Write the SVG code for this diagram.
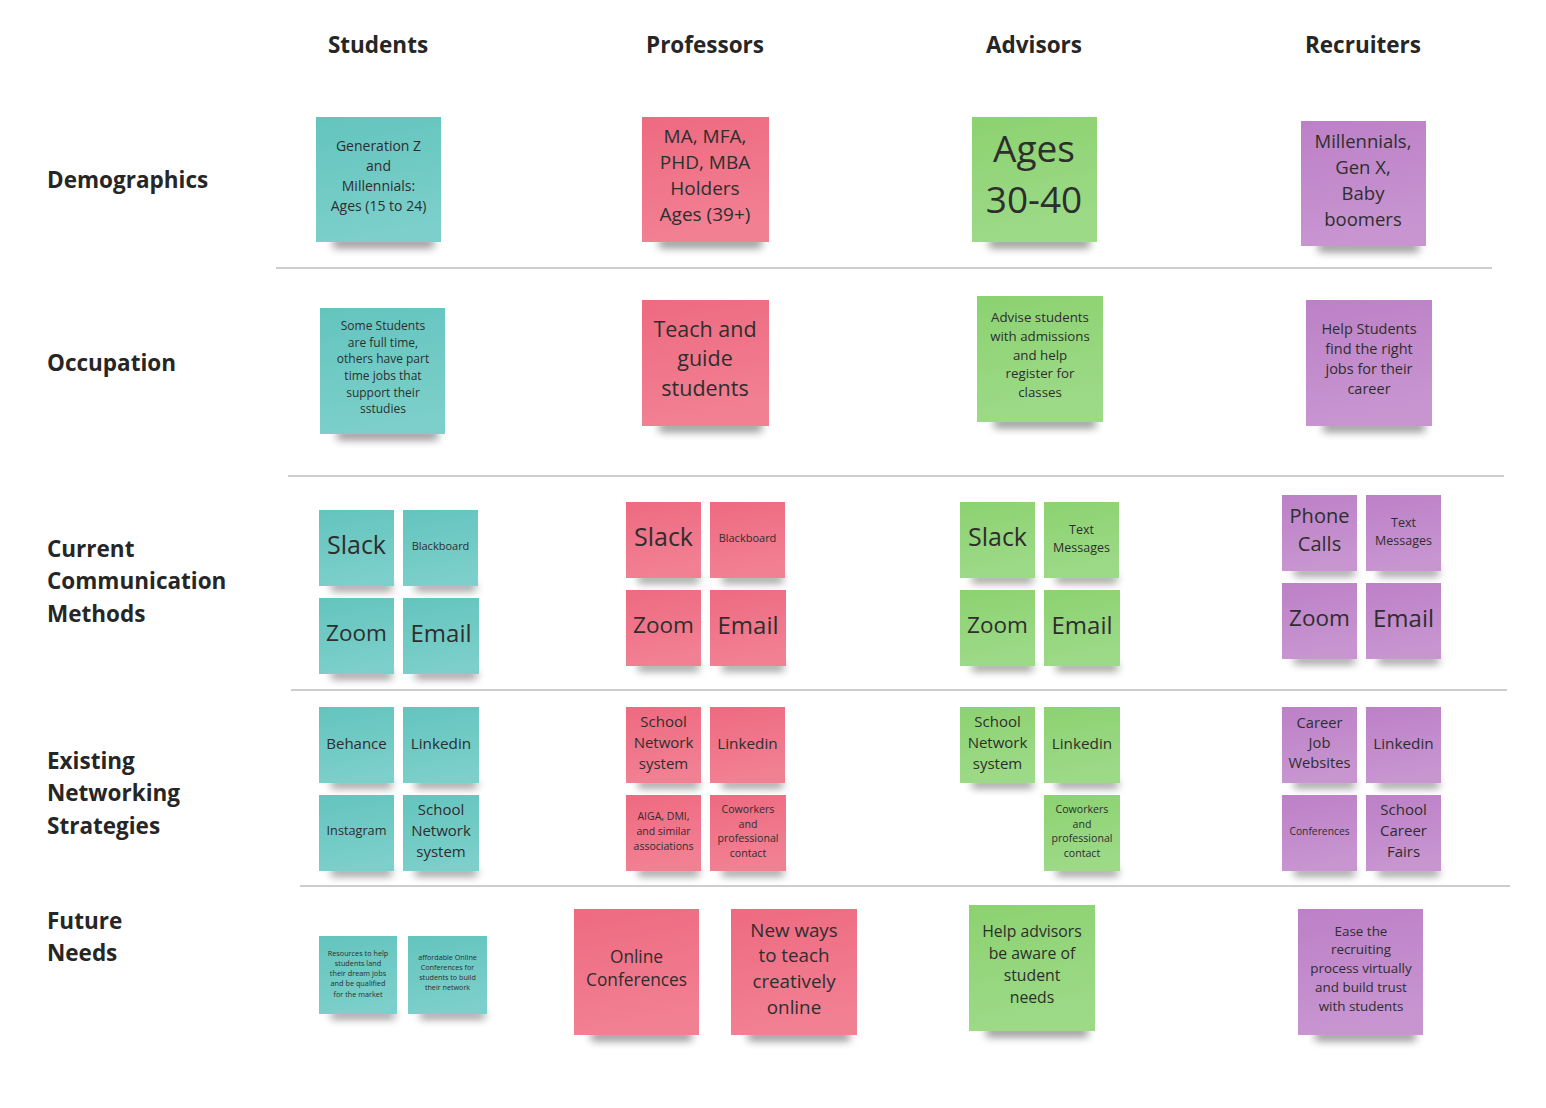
<svg xmlns="http://www.w3.org/2000/svg" width="1546" height="1108" viewBox="0 0 1546 1108">
<style>
.hd{font-family:"Open Sans","DejaVu Sans",sans-serif;font-weight:bold;font-size:22.5px;fill:#262626}
.ch{text-anchor:middle}
.t{font-family:"Open Sans","DejaVu Sans",sans-serif;fill:#2e2e2e;text-anchor:middle}
.sh{fill:#000;opacity:.42;filter:url(#bl);transform:translate(5px,2px)}
.teal{fill:url(#gT)}
.pink{fill:url(#gP)}
.green{fill:url(#gG)}
.purple{fill:url(#gU)}
.div{stroke:#cdcdcd;stroke-width:2}
</style>
<defs>
<filter id="bl" x="-30%" y="-200%" width="160%" height="500%"><feGaussianBlur stdDeviation="4"/></filter>
<linearGradient id="gT" x1="0" y1="0" x2="0.2" y2="1"><stop offset="0" stop-color="#63c4be"/><stop offset="1" stop-color="#7ccfca"/></linearGradient>
<linearGradient id="gP" x1="0" y1="0" x2="0.2" y2="1"><stop offset="0" stop-color="#ee6a80"/><stop offset="1" stop-color="#f28093"/></linearGradient>
<linearGradient id="gG" x1="0" y1="0" x2="0.2" y2="1"><stop offset="0" stop-color="#8cd270"/><stop offset="1" stop-color="#9dda88"/></linearGradient>
<linearGradient id="gU" x1="0" y1="0" x2="0.2" y2="1"><stop offset="0" stop-color="#bc80c6"/><stop offset="1" stop-color="#c895d1"/></linearGradient>
</defs>
<rect width="1546" height="1108" fill="#fff"/>

<g id="column-headers">
<text class="hd ch" x="378" y="53">Students</text>
<text class="hd ch" x="705" y="53">Professors</text>
<text class="hd ch" x="1034" y="53">Advisors</text>
<text class="hd ch" x="1363" y="53">Recruiters</text>
</g>
<g id="row-labels">
<text class="hd" x="47" y="188">Demographics</text>
<text class="hd" x="47" y="371">Occupation</text>
<text class="hd" x="47" y="557">Current</text>
<text class="hd" x="47" y="589">Communication</text>
<text class="hd" x="47" y="622">Methods</text>
<text class="hd" x="47" y="769">Existing</text>
<text class="hd" x="47" y="801">Networking</text>
<text class="hd" x="47" y="834">Strategies</text>
<text class="hd" x="47" y="929">Future</text>
<text class="hd" x="47" y="961">Needs</text>
</g>
<g id="connectors">
<line class="div" x1="276" y1="268" x2="1492" y2="268"/>
<line class="div" x1="288" y1="476" x2="1504" y2="476"/>
<line class="div" x1="291" y1="690" x2="1507" y2="690"/>
<line class="div" x1="300" y1="886" x2="1510" y2="886"/>
</g>

<!-- Demographics -->
<g id="stu-demo"><rect class="sh" x="328" y="236" width="101" height="10"/><rect class="teal" x="316" y="117" width="125" height="125"/>
<text class="t" font-size="14" x="378.5"><tspan x="378.5" y="151">Generation Z</tspan><tspan x="378.5" y="171">and</tspan><tspan x="378.5" y="191">Millennials:</tspan><tspan x="378.5" y="211">Ages (15 to 24)</tspan></text></g>
<g id="prof-demo"><rect class="sh" x="654" y="236" width="103" height="10"/><rect class="pink" x="642" y="117" width="127" height="125"/>
<text class="t" font-size="19" x="705"><tspan x="705" y="143">MA, MFA,</tspan><tspan x="705" y="169">PHD, MBA</tspan><tspan x="705" y="195">Holders</tspan><tspan x="705" y="221">Ages (39+)</tspan></text></g>
<g id="adv-demo"><rect class="sh" x="984" y="236" width="101" height="10"/><rect class="green" x="972" y="117" width="125" height="125"/>
<text class="t" font-size="37" x="1034"><tspan x="1034" y="162">Ages</tspan><tspan x="1034" y="213">30-40</tspan></text></g>
<g id="rec-demo"><rect class="sh" x="1313" y="240" width="101" height="10"/><rect class="purple" x="1301" y="121" width="125" height="125"/>
<text class="t" font-size="18.5" x="1363"><tspan x="1363" y="147.5">Millennials,</tspan><tspan x="1363" y="173.5">Gen X,</tspan><tspan x="1363" y="199.5">Baby</tspan><tspan x="1363" y="225.5">boomers</tspan></text></g>

<!-- Occupation -->
<g id="stu-occ"><rect class="sh" x="332" y="428" width="101" height="10"/><rect class="teal" x="320" y="308" width="125" height="126"/>
<text class="t" font-size="12"><tspan x="383" y="330">Some Students</tspan><tspan x="383" y="346.5">are full time,</tspan><tspan x="383" y="363">others have part</tspan><tspan x="383" y="380">time jobs that</tspan><tspan x="383" y="397">support their</tspan><tspan x="383" y="413">sstudies</tspan></text></g>
<g id="prof-occ"><rect class="sh" x="654" y="420" width="103" height="10"/><rect class="pink" x="642" y="300" width="127" height="126"/>
<text class="t" font-size="21.5"><tspan x="705" y="336.5">Teach and</tspan><tspan x="705" y="366">guide</tspan><tspan x="705" y="395.5">students</tspan></text></g>
<g id="adv-occ"><rect class="sh" x="989" y="416" width="102" height="10"/><rect class="green" x="977" y="296" width="126" height="126"/>
<text class="t" font-size="13.3"><tspan x="1040" y="321.7">Advise students</tspan><tspan x="1040" y="340.7">with admissions</tspan><tspan x="1040" y="359.7">and help</tspan><tspan x="1040" y="377.7">register for</tspan><tspan x="1040" y="396.7">classes</tspan></text></g>
<g id="rec-occ"><rect class="sh" x="1318" y="420" width="102" height="10"/><rect class="purple" x="1306" y="300" width="126" height="126"/>
<text class="t" font-size="14.5"><tspan x="1369" y="334">Help Students</tspan><tspan x="1369" y="354">find the right</tspan><tspan x="1369" y="374">jobs for their</tspan><tspan x="1369" y="394">career</tspan></text></g>

<!-- Communication: Students -->
<g id="stu-slack"><rect class="sh" x="326" y="581" width="61" height="8"/><rect class="teal" x="319" y="510" width="75" height="76"/><text class="t" font-size="25" x="356.5" y="554">Slack</text></g>
<g id="stu-blackboard"><rect class="sh" x="410" y="581" width="61" height="8"/><rect class="teal" x="403" y="510" width="75" height="76"/><text class="t" font-size="11" x="440.5" y="550">Blackboard</text></g>
<g id="stu-zoom"><rect class="sh" x="326" y="669" width="61" height="8"/><rect class="teal" x="319" y="598" width="75" height="76"/><text class="t" font-size="22.5" x="356.5" y="641">Zoom</text></g>
<g id="stu-email"><rect class="sh" x="410" y="669" width="62" height="8"/><rect class="teal" x="403" y="598" width="76" height="76"/><text class="t" font-size="24" x="441" y="641.5">Email</text></g>
<!-- Communication: Professors -->
<g id="prof-slack"><rect class="sh" x="633" y="573" width="61" height="8"/><rect class="pink" x="626" y="502" width="75" height="76"/><text class="t" font-size="25" x="663.5" y="546">Slack</text></g>
<g id="prof-blackboard"><rect class="sh" x="717" y="573" width="61" height="8"/><rect class="pink" x="710" y="502" width="75" height="76"/><text class="t" font-size="11" x="747.5" y="542">Blackboard</text></g>
<g id="prof-zoom"><rect class="sh" x="633" y="661" width="61" height="8"/><rect class="pink" x="626" y="590" width="75" height="76"/><text class="t" font-size="22.5" x="663.5" y="633">Zoom</text></g>
<g id="prof-email"><rect class="sh" x="717" y="661" width="62" height="8"/><rect class="pink" x="710" y="590" width="76" height="76"/><text class="t" font-size="24" x="748" y="633.5">Email</text></g>
<!-- Communication: Advisors -->
<g id="adv-slack"><rect class="sh" x="967" y="573" width="61" height="8"/><rect class="green" x="960" y="502" width="75" height="76"/><text class="t" font-size="25" x="997.5" y="546">Slack</text></g>
<g id="adv-text"><rect class="sh" x="1051" y="573" width="61" height="8"/><rect class="green" x="1044" y="502" width="75" height="76"/><text class="t" font-size="12.5"><tspan x="1081.5" y="533.5">Text</tspan><tspan x="1081.5" y="551.5">Messages</tspan></text></g>
<g id="adv-zoom"><rect class="sh" x="967" y="661" width="61" height="8"/><rect class="green" x="960" y="590" width="75" height="76"/><text class="t" font-size="22.5" x="997.5" y="633">Zoom</text></g>
<g id="adv-email"><rect class="sh" x="1051" y="661" width="62" height="8"/><rect class="green" x="1044" y="590" width="76" height="76"/><text class="t" font-size="24" x="1082" y="633.5">Email</text></g>
<!-- Communication: Recruiters -->
<g id="rec-phone"><rect class="sh" x="1289" y="566" width="61" height="8"/><rect class="purple" x="1282" y="495" width="75" height="76"/><text class="t" font-size="20"><tspan x="1319.5" y="523">Phone</tspan><tspan x="1319.5" y="551">Calls</tspan></text></g>
<g id="rec-text"><rect class="sh" x="1373" y="566" width="61" height="8"/><rect class="purple" x="1366" y="495" width="75" height="76"/><text class="t" font-size="12.5"><tspan x="1403.5" y="526.5">Text</tspan><tspan x="1403.5" y="544.5">Messages</tspan></text></g>
<g id="rec-zoom"><rect class="sh" x="1289" y="654" width="61" height="8"/><rect class="purple" x="1282" y="583" width="75" height="76"/><text class="t" font-size="22.5" x="1319.5" y="626">Zoom</text></g>
<g id="rec-email"><rect class="sh" x="1373" y="654" width="61" height="8"/><rect class="purple" x="1366" y="583" width="75" height="76"/><text class="t" font-size="24" x="1403.5" y="626.5">Email</text></g>

<!-- Networking: Students -->
<g id="stu-behance"><rect class="sh" x="326" y="778" width="61" height="8"/><rect class="teal" x="319" y="707" width="75" height="76"/><text class="t" font-size="15" x="356.5" y="748.5">Behance</text></g>
<g id="stu-linkedin"><rect class="sh" x="410" y="778" width="62" height="8"/><rect class="teal" x="403" y="707" width="76" height="76"/><text class="t" font-size="15.3" x="441" y="748.5">Linkedin</text></g>
<g id="stu-instagram"><rect class="sh" x="326" y="866" width="61" height="8"/><rect class="teal" x="319" y="795" width="75" height="76"/><text class="t" font-size="12.7" x="356.5" y="835">Instagram</text></g>
<g id="stu-school"><rect class="sh" x="410" y="866" width="62" height="8"/><rect class="teal" x="403" y="795" width="76" height="76"/><text class="t" font-size="15"><tspan x="441" y="814.5">School</tspan><tspan x="441" y="835.5">Network</tspan><tspan x="441" y="856.5">system</tspan></text></g>
<!-- Networking: Professors -->
<g id="prof-school"><rect class="sh" x="633" y="778" width="61" height="8"/><rect class="pink" x="626" y="707" width="75" height="76"/><text class="t" font-size="15"><tspan x="663.5" y="726.5">School</tspan><tspan x="663.5" y="747.5">Network</tspan><tspan x="663.5" y="768.5">system</tspan></text></g>
<g id="prof-linkedin"><rect class="sh" x="717" y="778" width="61" height="8"/><rect class="pink" x="710" y="707" width="75" height="76"/><text class="t" font-size="15.3" x="747.5" y="748.5">Linkedin</text></g>
<g id="prof-aiga"><rect class="sh" x="633" y="866" width="61" height="8"/><rect class="pink" x="626" y="795" width="75" height="76"/><text class="t" font-size="10.5"><tspan x="663.5" y="820">AIGA, DMI,</tspan><tspan x="663.5" y="835">and similar</tspan><tspan x="663.5" y="850">associations</tspan></text></g>
<g id="prof-coworkers"><rect class="sh" x="717" y="866" width="62" height="8"/><rect class="pink" x="710" y="795" width="76" height="76"/><text class="t" font-size="10.6"><tspan x="748" y="813">Coworkers</tspan><tspan x="748" y="827.5">and</tspan><tspan x="748" y="842">professional</tspan><tspan x="748" y="856.5">contact</tspan></text></g>
<!-- Networking: Advisors -->
<g id="adv-school"><rect class="sh" x="967" y="778" width="61" height="8"/><rect class="green" x="960" y="707" width="75" height="76"/><text class="t" font-size="15"><tspan x="997.5" y="726.5">School</tspan><tspan x="997.5" y="747.5">Network</tspan><tspan x="997.5" y="768.5">system</tspan></text></g>
<g id="adv-linkedin"><rect class="sh" x="1051" y="778" width="62" height="8"/><rect class="green" x="1044" y="707" width="76" height="76"/><text class="t" font-size="15.3" x="1082" y="748.5">Linkedin</text></g>
<g id="adv-coworkers"><rect class="sh" x="1051" y="866" width="62" height="8"/><rect class="green" x="1044" y="795" width="76" height="76"/><text class="t" font-size="10.6"><tspan x="1082" y="813">Coworkers</tspan><tspan x="1082" y="827.5">and</tspan><tspan x="1082" y="842">professional</tspan><tspan x="1082" y="856.5">contact</tspan></text></g>
<!-- Networking: Recruiters -->
<g id="rec-career"><rect class="sh" x="1289" y="778" width="61" height="8"/><rect class="purple" x="1282" y="707" width="75" height="76"/><text class="t" font-size="14.7"><tspan x="1319.5" y="727.5">Career</tspan><tspan x="1319.5" y="747.5">Job</tspan><tspan x="1319.5" y="767.5">Websites</tspan></text></g>
<g id="rec-linkedin"><rect class="sh" x="1373" y="778" width="61" height="8"/><rect class="purple" x="1366" y="707" width="75" height="76"/><text class="t" font-size="15.3" x="1403.5" y="748.5">Linkedin</text></g>
<g id="rec-conferences"><rect class="sh" x="1289" y="866" width="61" height="8"/><rect class="purple" x="1282" y="795" width="75" height="76"/><text class="t" font-size="10.3" x="1319.5" y="835">Conferences</text></g>
<g id="rec-fairs"><rect class="sh" x="1373" y="866" width="61" height="8"/><rect class="purple" x="1366" y="795" width="75" height="76"/><text class="t" font-size="15"><tspan x="1403.5" y="814.5">School</tspan><tspan x="1403.5" y="835.5">Career</tspan><tspan x="1403.5" y="856.5">Fairs</tspan></text></g>

<!-- Future needs -->
<g id="stu-resources"><rect class="sh" x="326" y="1009" width="64" height="8"/><rect class="teal" x="319" y="936" width="78" height="78"/><text class="t" font-size="7.3"><tspan x="358" y="955.5">Resources to help</tspan><tspan x="358" y="965.8">students land</tspan><tspan x="358" y="976.1">their dream jobs</tspan><tspan x="358" y="986.4">and be qualified</tspan><tspan x="358" y="996.7">for the market</tspan></text></g>
<g id="stu-affordable"><rect class="sh" x="415" y="1009" width="65" height="8"/><rect class="teal" x="408" y="936" width="79" height="78"/><text class="t" font-size="7.2"><tspan x="447.5" y="959.5">affordable Online</tspan><tspan x="447.5" y="969.8">Conferences for</tspan><tspan x="447.5" y="980.1">students to build</tspan><tspan x="447.5" y="990.4">their network</tspan></text></g>
<g id="prof-online"><rect class="sh" x="586" y="1029" width="101" height="10"/><rect class="pink" x="574" y="909" width="125" height="126"/><text class="t" font-size="17.3"><tspan x="636.5" y="963">Online</tspan><tspan x="636.5" y="986">Conferences</tspan></text></g>
<g id="prof-newways"><rect class="sh" x="743" y="1029" width="102" height="10"/><rect class="pink" x="731" y="909" width="126" height="126"/><text class="t" font-size="18.8"><tspan x="794" y="936.5">New ways</tspan><tspan x="794" y="962.2">to teach</tspan><tspan x="794" y="987.9">creatively</tspan><tspan x="794" y="1013.6">online</tspan></text></g>
<g id="adv-future"><rect class="sh" x="981" y="1025" width="102" height="10"/><rect class="green" x="969" y="905" width="126" height="126"/><text class="t" font-size="15.8"><tspan x="1032" y="936.5">Help advisors</tspan><tspan x="1032" y="958.5">be aware of</tspan><tspan x="1032" y="980.5">student</tspan><tspan x="1032" y="1002.5">needs</tspan></text></g>
<g id="rec-future"><rect class="sh" x="1310" y="1029" width="101" height="10"/><rect class="purple" x="1298" y="909" width="125" height="126"/><text class="t" font-size="13.4"><tspan x="1361" y="935.7">Ease the</tspan><tspan x="1361" y="954.4">recruiting</tspan><tspan x="1361" y="973.1">process virtually</tspan><tspan x="1361" y="991.8">and build trust</tspan><tspan x="1361" y="1010.5">with students</tspan></text></g>
</svg>
